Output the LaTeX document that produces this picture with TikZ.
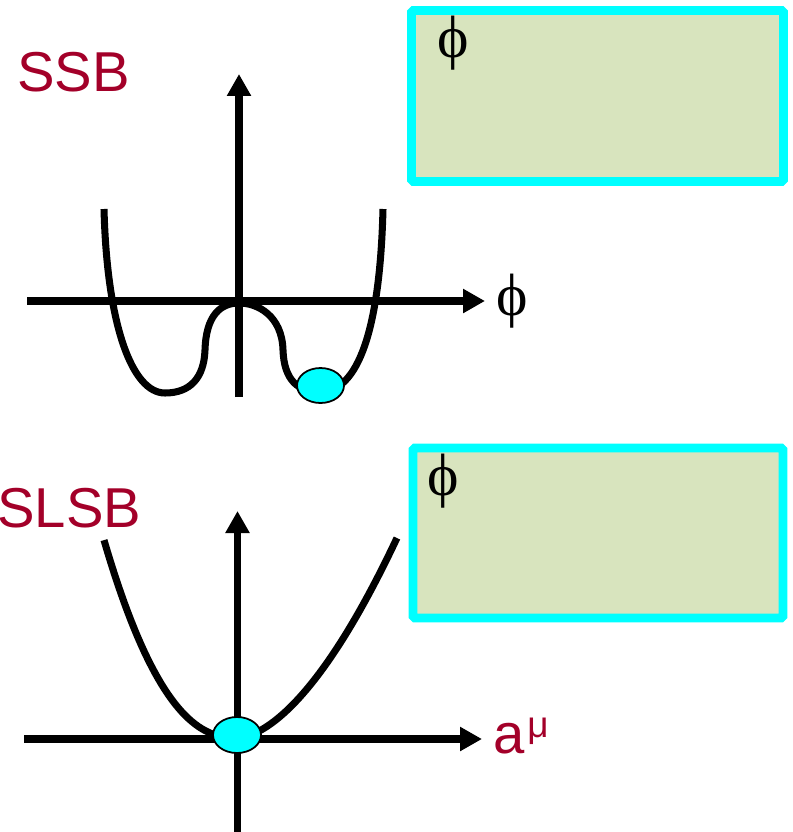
\documentclass[tikz,border=0pt]{standalone}
\usepackage{fontspec}
\setmainfont{Liberation Sans}
\newfontfamily\greekfont{Liberation Serif}
\usetikzlibrary{arrows.meta,shapes.geometric}
\definecolor{ssbred}{RGB}{163,0,41}
\definecolor{panelgreen}{RGB}{216,228,190}
\definecolor{aqua}{RGB}{0,255,255}

\begin{document}
\begin{tikzpicture}[
    x=0.02cm, y=-0.02cm,
    axis/.style={line width=4.2pt, -{Triangle[length=0.44cm,width=0.46cm]}},
    curve/.style={line width=4pt},
    panel/.style={draw=aqua, fill=panelgreen, line width=5pt, rounded corners=1pt},
    ball/.style={ellipse, draw=black, line width=1pt, fill=aqua, inner sep=0pt},
    title/.style={font=\fontsize{32}{36}\selectfont, text=ssbred, anchor=base west, inner sep=0pt},
    sym/.style={font=\greekfont\fontsize{34}{38}\selectfont, inner sep=0pt}
]
\useasboundingbox (0,0) rectangle (792,832);

% SSB
\node[title] (ssb) at (17,91) {SSB};
\draw[panel] (411.5,10.5) rectangle (783.5,181.5);
\node[sym] (top phi) at (453,43) {ϕ};

\coordinate (top x0) at (27,301);
\coordinate (top x1) at (485,301);
\coordinate (top y0) at (239,397);
\coordinate (top y1) at (239,74);
\draw[axis] (top x0) -- (top x1);
\draw[axis] (top y0) -- (top y1);
\node[sym, anchor=west] (top xlabel) at (496,301) {ϕ};

\draw[curve] (104,209) .. controls (107,325) and (132,393) .. (165,393)
    .. controls (190,393) and (204,378) .. (205,350)
    .. controls (206,316) and (220,303) .. (239,303)
    .. controls (258,303) and (282,316) .. (283,350)
    .. controls (284,380) and (298,392) .. (320,392)
    .. controls (358,392) and (380,330) .. (383,209);
\node[ball, minimum width=0.94cm, minimum height=0.7cm] (top ball) at (320.5,385.5) {};

% SLSB
\node[title] (slsb) at (-3,527) {SLSB};
\draw[panel] (413,448) rectangle (783,618);
\node[sym] (bottom phi) at (443,481) {ϕ};

\coordinate (bottom x0) at (24,739);
\coordinate (bottom x1) at (482,739);
\coordinate (bottom y0) at (237.5,832);
\coordinate (bottom y1) at (237.5,511);
\draw[axis] (bottom x0) -- (bottom x1);
\draw[axis] (bottom y0) -- (bottom y1);
\node[title] (bottom xlabel) at (493,753)
    {a\kern1.5pt\raisebox{9pt}{\fontsize{21}{21}\selectfont μ}};

\draw[curve] plot[domain=-1.33:-0.01, samples=40] ({237+100*\x}, {738-102.7*pow(-\x,2.3)})
    -- (237,738)
    -- plot[domain=0.01:1.6, samples=40] ({237+100*\x}, {738-90*pow(\x,1.7)});
\node[ball, minimum width=0.96cm, minimum height=0.72cm] (bottom ball) at (237,735) {};

\end{tikzpicture}
\end{document}
